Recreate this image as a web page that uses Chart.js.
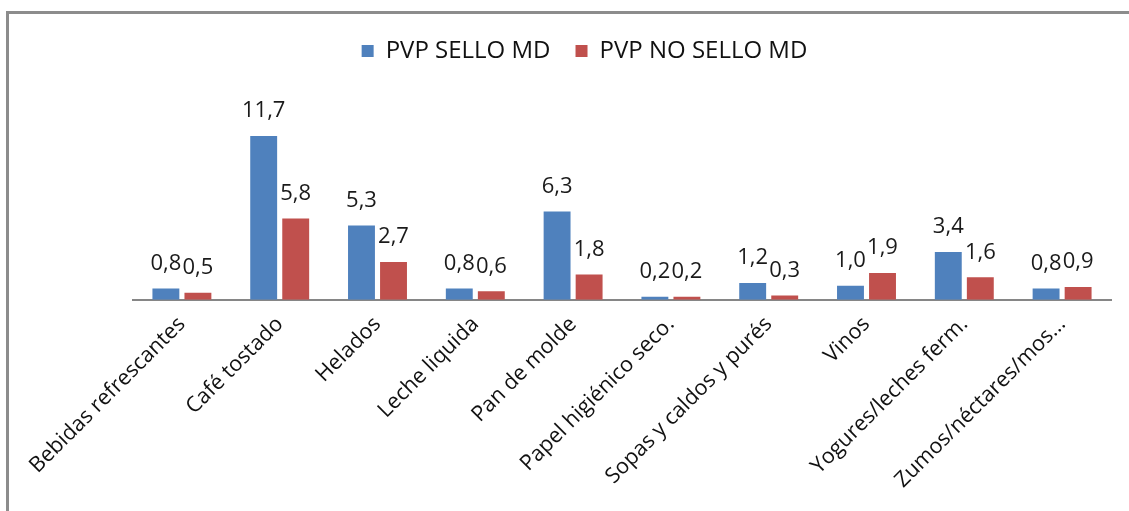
<!DOCTYPE html>
<html><head><meta charset="utf-8">
<script src="https://cdn.jsdelivr.net/npm/chart.js@4/dist/chart.umd.min.js"></script>
<style>html,body{margin:0;padding:0;background:#fff}#wrap{position:absolute;left:0;top:0;width:1129px;height:511px}</style>
</head><body><div id="wrap"><canvas id="c" width="1129" height="511"></canvas></div>
<script>
const categories = ["Bebidas refrescantes","Café tostado","Helados","Leche liquida","Pan de molde","Papel higiénico seco.","Sopas y caldos y purés","Vinos","Yogures/leches ferm.","Zumos/néctares/mos..."];
const seriesNames = ["PVP SELLO MD","PVP NO SELLO MD"];
const selloMD = [0.8,11.7,5.3,0.8,6.3,0.2,1.2,1.0,3.4,0.8];
const noSelloMD = [0.5,5.8,2.7,0.6,1.8,0.2,0.3,1.9,1.6,0.9];

const frame = {id:'frame',afterDraw(ch){const c=ch.ctx;c.save();c.strokeStyle='#8c8c8c';c.lineWidth=3;c.beginPath();c.moveTo(7.5,511);c.lineTo(7.5,12.5);c.lineTo(1129,12.5);c.stroke();c.restore();}};
const valLabels = {id:'valLabels',afterDatasetsDraw(ch){const c=ch.ctx;c.save();c.font='22px "Open Sans"';c.fillStyle='#1a1a1a';c.textAlign='center';c.textBaseline='middle';
 ch.data.datasets.forEach((ds,i)=>{ch.getDatasetMeta(i).data.forEach((b,j)=>{c.fillText(ds.data[j].toFixed(1).replace('.',','),b.x,b.y-25);});});c.restore();}};

new Chart(document.getElementById('c'),{type:'bar',
 data:{labels:categories,datasets:[
  {label:seriesNames[0],data:selloMD,backgroundColor:'#4F81BD',categoryPercentage:0.655,barPercentage:0.84},
  {label:seriesNames[1],data:noSelloMD,backgroundColor:'#C0504D',categoryPercentage:0.655,barPercentage:0.84}]},
 options:{responsive:false,animation:false,
  layout:{padding:{top:14,right:18,left:58,bottom:6}},
  plugins:{legend:{position:'top',labels:{boxWidth:12,boxHeight:12,padding:25,color:'#111',font:{family:'Open Sans',size:24}}},tooltip:{enabled:false}},
  scales:{x:{afterFit(s){s.paddingLeft=133;},grid:{display:false,drawTicks:false},border:{color:'#868686',width:2},ticks:{autoSkip:false,maxRotation:45,minRotation:45,padding:12,color:'#111',font:{family:'Open Sans',size:21.5}}},
   y:{display:false,min:0,max:16.2}}},
 plugins:[frame,valLabels]});
</script></body></html>
